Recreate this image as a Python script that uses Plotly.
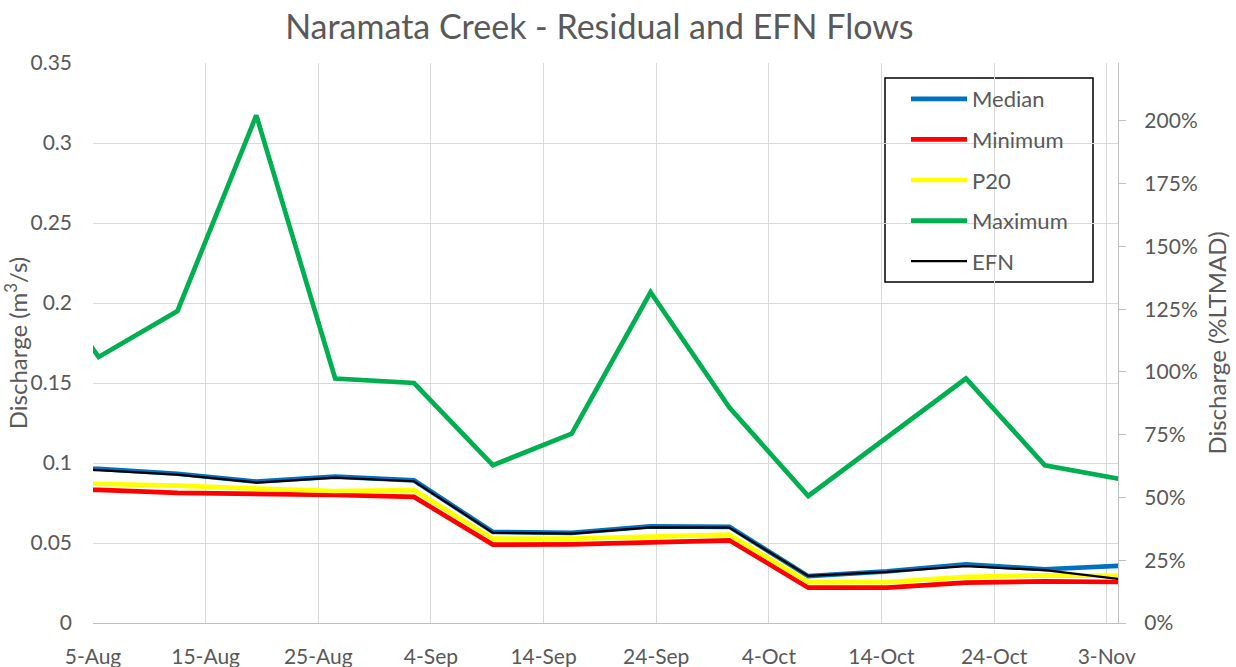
import pandas as pd
import plotly.graph_objects as go

# ---- data ----
dates = ["2023-07-29", "2023-08-05", "2023-08-12", "2023-08-19", "2023-08-26",
         "2023-09-02", "2023-09-09", "2023-09-16", "2023-09-23", "2023-09-30",
         "2023-10-07", "2023-10-14", "2023-10-21", "2023-10-28", "2023-11-04"]
median = [0.0972, 0.0963, 0.0933, 0.0884, 0.0915, 0.0891, 0.0569, 0.0563, 0.0604, 0.0601,
          0.0293, 0.0323, 0.0367, 0.0336, 0.0358]
minimum = [0.0840, 0.0832, 0.0813, 0.0809, 0.0800, 0.0788, 0.0490, 0.0492, 0.0508, 0.0517,
           0.0221, 0.0221, 0.0252, 0.0260, 0.0256]
p20 = [0.0880, 0.0873, 0.0859, 0.0840, 0.0825, 0.0830, 0.0527, 0.0527, 0.0543, 0.0552,
       0.0256, 0.0256, 0.0288, 0.0298, 0.0294]
maximum = [0.235, 0.1663, 0.1950, 0.3173, 0.1528, 0.1500, 0.0986, 0.1184, 0.2067, 0.1346,
           0.0794, 0.1160, 0.1528, 0.0986, 0.0896]
efn = [0.0965, 0.0956, 0.0928, 0.0878, 0.0909, 0.0886, 0.0565, 0.0559, 0.0598, 0.0596,
       0.0294, 0.0319, 0.0356, 0.0330, 0.0272]

y_ticks = [0, 0.05, 0.1, 0.15, 0.2, 0.25, 0.3, 0.35]
y_ticktext = ["0", "0.05", "0.1", "0.15", "0.2", "0.25", "0.3", "0.35"]
y2_ticks = [0, 0.25, 0.5, 0.75, 1.0, 1.25, 1.5, 1.75, 2.0]
Y2_MAX = 2.231  # right axis top (%LTMAD) matching 0.35 m3/s on the left

# Excel date axis centres each point inside its day
x = pd.to_datetime(dates) + pd.Timedelta(hours=12)

FONT = "Lato, 'Open Sans', sans-serif"
GRAY = "#595959"
GRID = "#d9d9d9"
AXIS = "#bfbfbf"

series = [
    ("Median", median, "#0070C0", 4.7),
    ("Minimum", minimum, "#FF0000", 4.7),
    ("P20", p20, "#FFFF00", 4.7),
    ("Maximum", maximum, "#00B050", 4.7),
    ("EFN", efn, "#000000", 2.25),
]

fig = go.Figure()
for name, vals, color, w in series:
    fig.add_trace(go.Scatter(x=x, y=vals, name=name, mode="lines",
                             line=dict(color=color, width=w),
                             legendgroup=name))

# invisible helper so the secondary (%LTMAD) axis is drawn
fig.add_trace(go.Scatter(x=[x[1]], y=[0], yaxis="y2", mode="markers",
                         marker=dict(opacity=0), showlegend=False, hoverinfo="skip"))

L, R, T, B = 93, 118, 63, 44
PW, PH = 1236 - L - R, 667 - T - B

fig.update_layout(
    width=1236, height=667,
    paper_bgcolor="white", plot_bgcolor="white",
    margin=dict(l=L, r=R, t=T, b=B, autoexpand=False),
    title=dict(text="Naramata Creek - Residual and EFN Flows", x=0.494, xanchor="center",
               xref="paper", y=(667 - 27) / 667, yref="container", yanchor="middle",
               font=dict(family=FONT, size=34, color=GRAY)),
    font=dict(family=FONT, color=GRAY, size=21),
    showlegend=True,
    legend=dict(x=(906 - L) / PW, y=(623 - 78) / PH, xanchor="left", yanchor="top",
                bgcolor="rgba(0,0,0,0)", borderwidth=0,
                font=dict(family=FONT, size=22, color=GRAY),
                itemwidth=56, tracegroupgap=9, traceorder="grouped"),
    xaxis=dict(type="date", range=["2023-08-05", "2023-11-04"],
               tick0="2023-08-05", dtick=864000000, tickformat="%-d-%b",
               showgrid=True, gridcolor=GRID, gridwidth=1.3,
               showline=True, linecolor=AXIS, linewidth=1.3, automargin=False,
               ticks="", ticklabelstandoff=15, zeroline=False,
               tickfont=dict(size=21, color=GRAY)),
    yaxis=dict(range=[0, 0.35], tickvals=y_ticks, ticktext=y_ticktext,
               showgrid=True, gridcolor=GRID, gridwidth=1.3, zeroline=False,
               showline=False, ticks="", ticklabelstandoff=20, automargin=False,
               title=dict(text="Discharge (m<sup>3</sup>/s)", standoff=8,
                          font=dict(size=24, color=GRAY)),
               tickfont=dict(size=21, color=GRAY)),
    yaxis2=dict(overlaying="y", side="right", range=[0, Y2_MAX],
                tickvals=y2_ticks, tickformat=".0%", showgrid=False, zeroline=False,
                showline=True, linecolor=AXIS, linewidth=1.3, automargin=False,
                ticks="outside", ticklen=7, tickcolor=AXIS, tickwidth=1.3,
                ticklabelstandoff=14,
                title=dict(text="Discharge (%LTMAD)", standoff=12,
                           font=dict(size=24, color=GRAY)),
                tickfont=dict(size=21, color=GRAY)),
    shapes=[dict(type="rect", xref="paper", yref="paper",
                 x0=(885 - L) / PW, x1=(1093 - L) / PW,
                 y0=(623 - 282) / PH, y1=(623 - 78) / PH,
                 line=dict(color="black", width=1.5), fillcolor="white", layer="below")],
)

fig.write_html("out.html", config={"displayModeBar": False})

# remove the browser's default page margin so the figure sits at (0, 0)
with open("out.html", encoding="utf-8") as f:
    html = f.read()
html = html.replace("<head>", "<head><style>html,body{margin:0;padding:0;overflow:hidden}</style>", 1)
with open("out.html", "w", encoding="utf-8") as f:
    f.write(html)
